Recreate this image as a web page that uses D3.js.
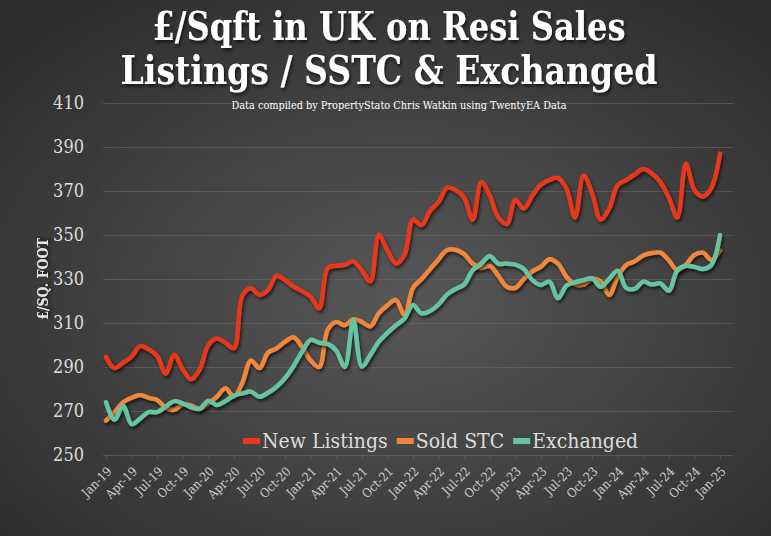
<!DOCTYPE html>
<html>
<head>
<meta charset="utf-8">
<script src="https://cdn.jsdelivr.net/npm/d3@7"></script>
<style>
  html, body { margin: 0; padding: 0; background: #333; }
  svg { display: block; }
  .slab { font-family: 'DejaVu Serif Condensed', 'DejaVu Serif', serif; font-stretch: condensed; }
</style>
</head>
<body>
<div id="chart"></div>
<script>
// monthly £/sqft, Jan-19 .. Jan-25
const newListings = [
  294.5, 289.5, 292, 294.7, 299.5, 298, 295, 287, 295.5, 289, 284.4, 289,
  300, 303, 301, 298.5, 322.5, 325.8, 322.7, 325, 331.4, 329.5, 326.5, 324.5,
  322, 316.7, 335, 336, 336.4, 338, 334, 329, 350, 343, 337, 341,
  357, 354.5, 361, 365, 371.5, 370.5, 367, 357, 374, 368, 358, 355,
  366, 362, 368, 373, 375, 376, 371, 358, 377, 369, 357, 362,
  372.7, 375, 377.5, 380, 378, 374, 367, 358, 382.5, 370.5, 367.5, 371.5,
  387
];
const soldSTC = [
  265.6, 269.5, 274, 276, 277.3, 276, 275, 271.5, 270.5, 273, 272.5, 271,
  273.5, 276.5, 280.3, 276.5, 283, 293, 289.5, 296.5, 298.5, 301.5, 303.5, 299,
  293, 290, 307, 310.5, 309, 311.7, 310.5, 308.5, 314.5, 318, 320.5, 313.6,
  326, 330, 334.5, 339, 343.2, 343.3, 341.3, 337, 335, 336, 331.5, 326.5,
  326, 330, 333.5, 335.6, 339, 337, 331, 327.5, 327.5, 330, 329, 322.7,
  331, 336.4, 338, 340.7, 341.8, 342, 338.5, 334, 336.5, 341, 342, 338.6,
  343
];
const exchanged = [
  274, 266, 272.3, 264, 266.5, 269.5, 269.5, 272, 274.5, 273.5, 271.7, 271,
  274.7, 272.7, 274.5, 277, 278, 278.8, 276.5, 278.3, 281, 285, 290.5, 297,
  302.3, 301, 300.5, 297.5, 290, 311.4, 290.2, 295.5, 301.5, 305.5, 309, 312,
  318.2, 314.4, 315.5, 318.5, 323, 325.5, 327.5, 334, 337, 340.5, 337, 337,
  336.5, 334.5, 329.5, 327.3, 328.8, 321.2, 327, 328.5, 329.5, 330.3, 326.5, 330,
  333.8, 326, 325.5, 328.8, 327.5, 328, 324.7, 334, 336, 335.5, 334.5, 336.5,
  350
];
const tickLabels = [
  'Jan-19', 'Apr-19', 'Jul-19', 'Oct-19', 'Jan-20', 'Apr-20', 'Jul-20', 'Oct-20',
  'Jan-21', 'Apr-21', 'Jul-21', 'Oct-21', 'Jan-22', 'Apr-22', 'Jul-22', 'Oct-22',
  'Jan-23', 'Apr-23', 'Jul-23', 'Oct-23', 'Jan-24', 'Apr-24', 'Jul-24', 'Oct-24',
  'Jan-25'
];
const yTicks = [250, 270, 290, 310, 330, 350, 370, 390, 410];
const seriesNames = ['New Listings', 'Sold STC', 'Exchanged'];
const seriesColors = ['#e8391d', '#f0873a', '#66c4a0'];
const allSeries = [newListings, soldSTC, exchanged];

const width = 771, height = 536;
const plot = { left: 103, right: 733, top: 103, bottom: 455 };

const svg = d3.select('#chart')
  .append('svg')
  .attr('width', width)
  .attr('height', height)
  .attr('viewBox', [0, 0, width, height]);

const defs = svg.append('defs');
const bg = defs.append('radialGradient')
  .attr('id', 'bg')
  .attr('cx', '0.52').attr('cy', '0.56').attr('r', '0.72');
bg.append('stop').attr('offset', '0%').attr('stop-color', '#575757');
bg.append('stop').attr('offset', '100%').attr('stop-color', '#2c2c2c');

defs.append('filter')
  .attr('id', 'shadow')
  .attr('x', '-10%').attr('y', '-10%').attr('width', '120%').attr('height', '130%')
  .append('feDropShadow')
  .attr('dx', 1.5).attr('dy', 2.5).attr('stdDeviation', 1.4)
  .attr('flood-color', '#000').attr('flood-opacity', 0.6);

svg.append('rect')
  .attr('width', width).attr('height', height)
  .attr('fill', 'url(#bg)');

const x = d3.scaleLinear()
  .domain([0, newListings.length - 1])
  .range([106, 720]);
const y = d3.scaleLinear()
  .domain([250, 410])
  .range([plot.bottom, plot.top]);

// y axis + gridlines
const yAxis = svg.append('g')
  .attr('transform', `translate(${plot.left},0)`)
  .call(d3.axisLeft(y)
    .tickValues(yTicks)
    .tickSize(-(plot.right - plot.left))
    .tickPadding(19));
yAxis.select('.domain').remove();
yAxis.selectAll('line').attr('stroke', '#6a6a6a').attr('stroke-opacity', 0.55);
yAxis.selectAll('text')
  .attr('class', 'slab')
  .attr('fill', '#dcdcdc')
  .style('font-size', '18px');

// x axis
const xAxis = svg.append('g')
  .attr('transform', `translate(0,${plot.bottom})`)
  .call(d3.axisBottom(x)
    .tickValues(tickLabels.map((d, i) => i * 3))
    .tickFormat((d, i) => tickLabels[i])
    .tickSize(4));
xAxis.select('.domain').remove();
xAxis.selectAll('line').attr('stroke', '#6a6a6a').attr('stroke-opacity', 0.55);
xAxis.selectAll('text')
  .attr('class', 'slab')
  .attr('fill', '#cfcfcf')
  .style('font-size', '12.5px')
  .attr('text-anchor', 'end')
  .attr('x', 0).attr('y', 0).attr('dy', '0.35em')
  .attr('transform', 'translate(3,14) rotate(-45)');

// lines
const line = d3.line()
  .x((d, i) => x(i))
  .y((d) => y(d))
  .curve(d3.curveCatmullRom.alpha(0.5));

svg.append('g')
  .selectAll('path')
  .data(allSeries)
  .join('path')
  .attr('d', line)
  .attr('fill', 'none')
  .attr('stroke', (d, i) => seriesColors[i])
  .attr('stroke-width', 4.5)
  .attr('stroke-linejoin', 'round')
  .attr('stroke-linecap', 'round')
  .attr('filter', 'url(#shadow)');

// legend
const legend = svg.append('g').attr('transform', 'translate(0,441)');
let lx = 243;
seriesNames.forEach((name, i) => {
  legend.append('rect')
    .attr('x', lx).attr('y', -3)
    .attr('width', 17).attr('height', 6)
    .attr('fill', seriesColors[i]);
  const t = legend.append('text')
    .attr('class', 'slab')
    .attr('x', lx + 19).attr('y', 7)
    .attr('fill', '#dcdcdc')
    .style('font-size', '21px')
    .text(name);
  lx += 19 + t.node().getComputedTextLength() + 9;
});

// y title
svg.append('text')
  .attr('class', 'slab')
  .attr('transform', 'translate(48,279) rotate(-90)')
  .attr('text-anchor', 'middle')
  .attr('fill', '#e6e6e6')
  .style('font-size', '14px')
  .style('font-weight', 'bold')
  .attr('filter', 'url(#shadow)')
  .text('£/SQ. FOOT');

// titles
const titleLines = ['£/Sqft in UK on Resi Sales', 'Listings / SSTC & Exchanged'];
const titleWidths = [473, 537];
svg.append('g')
  .selectAll('text')
  .data(titleLines)
  .join('text')
  .attr('class', 'slab')
  .attr('x', 389)
  .attr('y', (d, i) => 40 + i * 44)
  .attr('text-anchor', 'middle')
  .attr('fill', '#ffffff')
  .style('font-size', '40px')
  .style('font-weight', 'bold')
  .attr('textLength', (d, i) => titleWidths[i])
  .attr('lengthAdjust', 'spacingAndGlyphs')
  .attr('filter', 'url(#shadow)')
  .text((d) => d);

svg.append('text')
  .attr('class', 'slab')
  .attr('x', 399).attr('y', 109)
  .attr('text-anchor', 'middle')
  .attr('fill', '#ffffff')
  .style('font-size', '11.5px')
  .attr('textLength', 335)
  .attr('lengthAdjust', 'spacingAndGlyphs')
  .text('Data compiled by PropertyStato Chris Watkin using TwentyEA Data');
</script>
</body>
</html>
